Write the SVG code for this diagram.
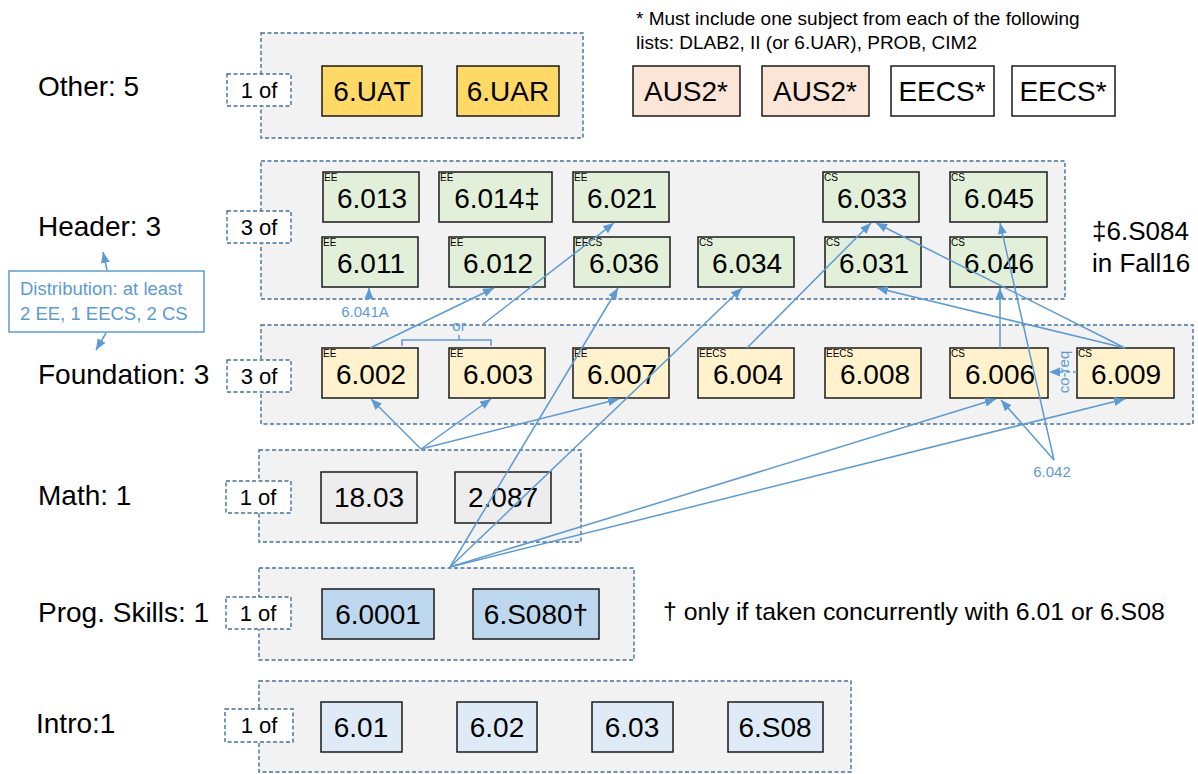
<svg xmlns="http://www.w3.org/2000/svg" width="1198" height="774" viewBox="0 0 1198 774">
<style>
text{font-family:"Liberation Sans",Arial,sans-serif;}
.grp{fill:#F2F2F2;stroke:#41719C;stroke-width:1.4;stroke-dasharray:4 2.5;}
.of{fill:#FFFFFF;stroke:#41719C;stroke-width:1.4;stroke-dasharray:4 2.5;}
.oft{font-size:22px;fill:#000;text-anchor:middle;}
.lbl{font-size:28px;fill:#000;}
.n{stroke:#1A1A1A;stroke-width:1.5;}
.nt{font-size:28px;fill:#000;text-anchor:middle;}
.tag{font-size:10px;fill:#000;}
.gold{fill:#FFD966;}
.aus{fill:#FBE5D6;}
.wht{fill:#FFFFFF;}
.hdr{fill:#E2F0D9;}
.fnd{fill:#FFF2CC;}
.mth{fill:#EDEDED;}
.prg{fill:#BDD7EE;}
.itr{fill:#DEEBF7;}
.c{stroke:#5B9BD5;stroke-width:1.5;fill:none;marker-end:url(#ah);}
.bl{fill:#5B9BD5;font-size:15px;}
</style>
<defs>
<marker id="ah" markerUnits="userSpaceOnUse" markerWidth="12" markerHeight="10" refX="11" refY="4.5" orient="auto">
<path d="M0,0 L11,4.5 L0,9 z" fill="#5B9BD5"/>
</marker>
</defs>
<rect width="1198" height="774" fill="#FFFFFF"/>

<g id="other">
<rect class="grp" x="261" y="33" width="322" height="105"/>
<text class="lbl" x="38" y="96">Other: 5</text>
<rect class="of" x="227" y="74" width="64" height="32"/>
<text class="oft" x="259" y="98">1 of</text>
</g>
<g id="n-6UAT"><rect class="n gold" x="322" y="66" width="100" height="50"/><text class="nt" x="372" y="101">6.UAT</text></g>
<g id="n-6UAR"><rect class="n gold" x="457" y="66" width="102" height="50"/><text class="nt" x="508" y="101">6.UAR</text></g>
<g id="note">
<text x="636" y="25" font-size="19">* Must include one subject from each of the following</text>
<text x="636" y="49" font-size="19">lists: DLAB2, II (or 6.UAR), PROB, CIM2</text>
</g>
<g id="n-aus2a"><rect class="n aus" x="633" y="66" width="107" height="50"/><text class="nt" x="686" y="101">AUS2*</text></g>
<g id="n-aus2b"><rect class="n aus" x="762" y="66" width="107" height="50"/><text class="nt" x="815" y="101">AUS2*</text></g>
<g id="n-eecsa"><rect class="n wht" x="891" y="66" width="103" height="50"/><text class="nt" x="942" y="101">EECS*</text></g>
<g id="n-eecsb"><rect class="n wht" x="1012" y="66" width="103" height="50"/><text class="nt" x="1063" y="101">EECS*</text></g>

<g id="header">
<rect class="grp" x="261" y="161" width="804" height="138"/>
<text class="lbl" x="38" y="236">Header: 3</text>
<rect class="of" x="227" y="211" width="64" height="32"/>
<text class="oft" x="259" y="235">3 of</text>
<text x="1092" y="240" font-size="26">‡6.S084</text>
<text x="1092" y="272" font-size="26">in Fall16</text>
</g>
<g id="n-6013"><rect class="n hdr" x="323" y="172" width="96" height="50"/><text class="tag" x="324" y="181">EE</text><text class="nt" x="372" y="208">6.013</text></g>
<g id="n-6014"><rect class="n hdr" x="439" y="172" width="113" height="50"/><text class="tag" x="440" y="181">EE</text><text class="nt" x="497" y="208">6.014‡</text></g>
<g id="n-6021"><rect class="n hdr" x="573" y="172" width="96" height="50"/><text class="tag" x="574" y="181">EE</text><text class="nt" x="622" y="208">6.021</text></g>
<g id="n-6033"><rect class="n hdr" x="823" y="172" width="96" height="50"/><text class="tag" x="824" y="181">CS</text><text class="nt" x="872" y="208">6.033</text></g>
<g id="n-6045"><rect class="n hdr" x="950" y="172" width="97" height="50"/><text class="tag" x="951" y="181">CS</text><text class="nt" x="999" y="208">6.045</text></g>
<g id="n-6011"><rect class="n hdr" x="322" y="237" width="96" height="50"/><text class="tag" x="323" y="246">EE</text><text class="nt" x="371" y="273">6.011</text></g>
<g id="n-6012"><rect class="n hdr" x="449" y="237" width="96" height="50"/><text class="tag" x="450" y="246">EE</text><text class="nt" x="498" y="273">6.012</text></g>
<g id="n-6036"><rect class="n hdr" x="574" y="237" width="96" height="50"/><text class="tag" x="575" y="246">EECS</text><text class="nt" x="624" y="273">6.036</text></g>
<g id="n-6034"><rect class="n hdr" x="698" y="237" width="96" height="50"/><text class="tag" x="699" y="246">CS</text><text class="nt" x="747" y="273">6.034</text></g>
<g id="n-6031"><rect class="n hdr" x="825" y="237" width="96" height="50"/><text class="tag" x="826" y="246">CS</text><text class="nt" x="874" y="273">6.031</text></g>
<g id="n-6046"><rect class="n hdr" x="950" y="237" width="97" height="50"/><text class="tag" x="951" y="246">CS</text><text class="nt" x="999" y="273">6.046</text></g>

<g id="distribution">
<rect x="9" y="271" width="195" height="61" fill="#FFFFFF" stroke="#5B9BD5" stroke-width="1.5"/>
<text x="20" y="295" font-size="18.5" fill="#5B9BD5">Distribution: at least</text>
<text x="20" y="320" font-size="18.5" fill="#5B9BD5">2 EE, 1 EECS, 2 CS</text>
</g>

<g id="foundation">
<rect class="grp" x="261" y="325" width="932" height="99"/>
<text class="lbl" x="38" y="384">Foundation: 3</text>
<rect class="of" x="227" y="360" width="64" height="32"/>
<text class="oft" x="259" y="384">3 of</text>
</g>
<g id="n-6002"><rect class="n fnd" x="322" y="348" width="96" height="50"/><text class="tag" x="323" y="357">EE</text><text class="nt" x="371" y="384">6.002</text></g>
<g id="n-6003"><rect class="n fnd" x="449" y="348" width="96" height="50"/><text class="tag" x="450" y="357">EE</text><text class="nt" x="498" y="384">6.003</text></g>
<g id="n-6007"><rect class="n fnd" x="573" y="348" width="96" height="50"/><text class="tag" x="574" y="357">EE</text><text class="nt" x="622" y="384">6.007</text></g>
<g id="n-6004"><rect class="n fnd" x="698" y="348" width="96" height="50"/><text class="tag" x="699" y="357">EECS</text><text class="nt" x="748" y="384">6.004</text></g>
<g id="n-6008"><rect class="n fnd" x="825" y="348" width="96" height="50"/><text class="tag" x="826" y="357">EECS</text><text class="nt" x="875" y="384">6.008</text></g>
<g id="n-6006"><rect class="n fnd" x="950" y="348" width="98" height="50"/><text class="tag" x="951" y="357">CS</text><text class="nt" x="1000" y="384">6.006</text></g>
<g id="n-6009"><rect class="n fnd" x="1077" y="348" width="97" height="50"/><text class="tag" x="1078" y="357">CS</text><text class="nt" x="1126" y="384">6.009</text></g>

<g id="math">
<rect class="grp" x="259" y="450" width="322" height="92"/>
<text class="lbl" x="38" y="505">Math: 1</text>
<rect class="of" x="226" y="481" width="65" height="32"/>
<text class="oft" x="258" y="505">1 of</text>
</g>
<g id="n-1803"><rect class="n mth" x="321" y="472" width="96" height="51"/><text class="nt" x="369" y="507">18.03</text></g>
<g id="n-2087"><rect class="n mth" x="455" y="472" width="96" height="51"/><text class="nt" x="503" y="507">2.087</text></g>

<g id="prog">
<rect class="grp" x="259" y="568" width="375" height="92"/>
<text class="lbl" x="38" y="622">Prog. Skills: 1</text>
<rect class="of" x="226" y="597" width="65" height="32"/>
<text class="oft" x="258" y="621">1 of</text>
<text x="663" y="620" font-size="24.8">† only if taken concurrently with 6.01 or 6.S08</text>
</g>
<g id="n-60001"><rect class="n prg" x="322" y="589" width="112" height="50"/><text class="nt" x="378" y="624">6.0001</text></g>
<g id="n-6S080"><rect class="n prg" x="473" y="589" width="126" height="50"/><text class="nt" x="536" y="624">6.S080†</text></g>

<g id="intro">
<rect class="grp" x="259" y="681" width="592" height="91"/>
<text class="lbl" x="36" y="733">Intro:1</text>
<rect class="of" x="225" y="709" width="68" height="33"/>
<text class="oft" x="259" y="733">1 of</text>
</g>
<g id="n-601"><rect class="n itr" x="321" y="702" width="81" height="50"/><text class="nt" x="361" y="737">6.01</text></g>
<g id="n-602"><rect class="n itr" x="457" y="702" width="80" height="50"/><text class="nt" x="497" y="737">6.02</text></g>
<g id="n-603"><rect class="n itr" x="592" y="702" width="81" height="50"/><text class="nt" x="632" y="737">6.03</text></g>
<g id="n-6S08"><rect class="n itr" x="728" y="702" width="95" height="50"/><text class="nt" x="775" y="737">6.S08</text></g>

<g id="connectors">
<line class="c" x1="370" y1="348" x2="494" y2="288"/>
<path d="M402,346 V340 H491 V346 M459,340 V335" fill="none" stroke="#5B9BD5" stroke-width="1.5"/>
<text class="bl" x="459" y="331" text-anchor="middle">or</text>
<line class="c" x1="482" y1="325" x2="614" y2="223"/>
<line class="c" x1="450" y1="567" x2="618" y2="288"/>
<line class="c" x1="450" y1="567" x2="742" y2="288"/>
<line class="c" x1="450" y1="567" x2="996" y2="399"/>
<line class="c" x1="450" y1="567" x2="1125" y2="399"/>
<line class="c" x1="421" y1="449" x2="371" y2="399"/>
<line class="c" x1="421" y1="449" x2="491" y2="399"/>
<line class="c" x1="421" y1="449" x2="619" y2="399"/>
<line class="c" x1="747" y1="348" x2="871" y2="223"/>
<line class="c" x1="1125" y1="348" x2="876" y2="223"/>
<line class="c" x1="1125" y1="348" x2="877" y2="288"/>
<line class="c" x1="1000" y1="348" x2="1000" y2="288"/>
<line class="c" x1="1054" y1="460" x2="1000" y2="223"/>
<line class="c" x1="1054" y1="460" x2="1001" y2="400"/>
<text class="bl" x="1052" y="477" text-anchor="middle">6.042</text>
<line class="c" x1="1077" y1="372" x2="1049" y2="372" stroke-dasharray="4 3"/>
<text class="bl" transform="translate(1069,372) rotate(-90)" text-anchor="middle" font-size="16">co-req</text>
<line class="c" x1="369" y1="298" x2="369" y2="288"/>
<text class="bl" x="365" y="317" text-anchor="middle">6.041A</text>
<line class="c" x1="107" y1="270" x2="103" y2="252"/>
<line class="c" x1="106" y1="333" x2="96" y2="350"/>
</g>
</svg>
